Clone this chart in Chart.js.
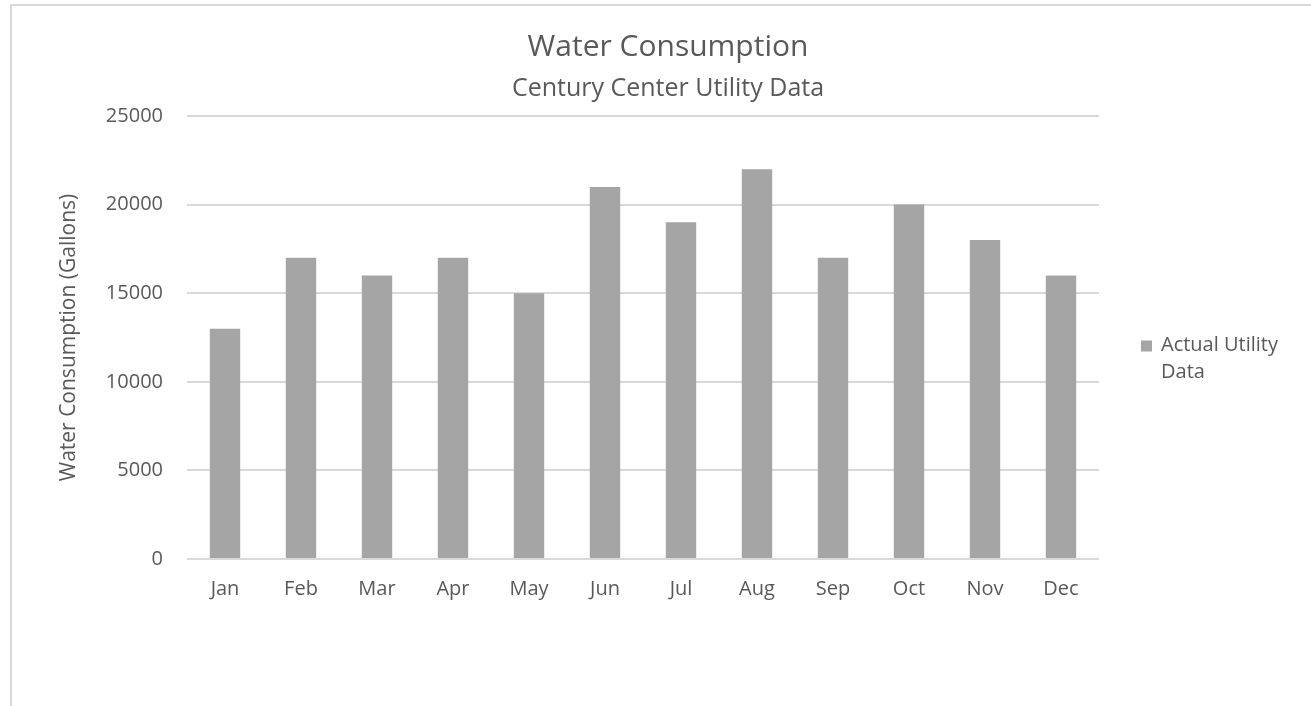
<!DOCTYPE html>
<html>
<head>
<meta charset="utf-8">
<title>Water Consumption</title>
<script src="https://cdn.jsdelivr.net/npm/chart.js@4/dist/chart.umd.min.js"></script>
<style>
  html, body { margin: 0; padding: 0; background: #fff; overflow: hidden; }
  .frame {
    position: absolute; left: 10px; top: 4px;
    width: 1340px; height: 740px;
    border-left: 2px solid #d9d9d9; border-top: 2px solid #d9d9d9;
  }
  #waterChart { display: block; }
</style>
</head>
<body>
<div class="frame">
  <canvas id="waterChart" width="1312" height="700"></canvas>
</div>
<script>
// === DATA ===
var months = ['Jan', 'Feb', 'Mar', 'Apr', 'May', 'Jun', 'Jul', 'Aug', 'Sep', 'Oct', 'Nov', 'Dec'];
var gallons = [13000, 17000, 16000, 17000, 15000, 21000, 19000, 22000, 17000, 20000, 18000, 16000];
var yTicks = [0, 5000, 10000, 15000, 20000, 25000];
var seriesLabel = 'Actual Utility Data';
var legendLines = ['Actual Utility', 'Data'];

var TEXT = '#595959';
var GRID = '#d9d9d9';
var BAR = '#a5a5a5';
var FONT = "'Open Sans', sans-serif";

// Right-hand legend, drawn in the space kept free by the spacer axis
var sideLegend = {
  id: 'sideLegend',
  afterDraw: function(chart) {
    var ctx = chart.ctx;
    var area = chart.chartArea;
    var x = area.right + 42;
    var y = (area.top + area.bottom) / 2 + 8;
    ctx.save();
    ctx.fillStyle = chart.data.datasets[0].backgroundColor;
    ctx.fillRect(x, y - 5, 11, 11);
    ctx.fillStyle = TEXT;
    ctx.font = '20px ' + FONT;
    ctx.textBaseline = 'middle';
    for (var i = 0; i < legendLines.length; i++) {
      ctx.fillText(legendLines[i], x + 20, y + i * 27);
    }
    ctx.restore();
  }
};

new Chart(document.getElementById('waterChart').getContext('2d'), {
  type: 'bar',
  data: {
    labels: months,
    datasets: [{
      label: seriesLabel,
      data: gallons,
      backgroundColor: BAR,
      barPercentage: 0.4,
      categoryPercentage: 1.0
    }]
  },
  options: {
    responsive: false,
    animation: false,
    layout: { padding: { top: 0, left: 0, right: 0, bottom: 87 } },
    plugins: {
      legend: { display: false },
      tooltip: { enabled: false },
      title: {
        display: true, text: 'Water Consumption', color: TEXT,
        font: { family: FONT, size: 30, weight: 'normal', lineHeight: 1.2 },
        padding: { top: 23, bottom: 4 }
      },
      subtitle: {
        display: true, text: 'Century Center Utility Data', color: TEXT,
        font: { family: FONT, size: 25, weight: 'normal', lineHeight: 1.2 },
        padding: { top: 5, bottom: 12 }
      }
    },
    scales: {
      x: {
        grid: { display: false, drawTicks: false },
        border: { display: false },
        ticks: { color: TEXT, padding: 18, font: { family: FONT, size: 20 } }
      },
      y: {
        min: 0, max: 25000,
        afterFit: function(scale) { scale.width = 175; },
        afterBuildTicks: function(scale) {
          scale.ticks = yTicks.map(function(v) { return { value: v }; });
        },
        grid: { color: GRID, lineWidth: 2, drawTicks: false },
        border: { display: false },
        ticks: {
          color: TEXT, padding: 24, font: { family: FONT, size: 20 },
          callback: function(val) { return String(val); }
        },
        title: {
          display: true, text: 'Water Consumption (Gallons)', color: TEXT,
          font: { family: FONT, size: 21 },
          padding: { top: 44, bottom: 0 }
        }
      },
      // spacer on the right that reserves room for the legend
      legendSpace: {
        type: 'linear', position: 'right', min: 0, max: 1,
        afterFit: function(scale) { scale.width = 225; },
        grid: { display: false, drawTicks: false },
        border: { display: false },
        ticks: { display: false }
      }
    }
  },
  plugins: [sideLegend]
});
</script>
</body>
</html>
